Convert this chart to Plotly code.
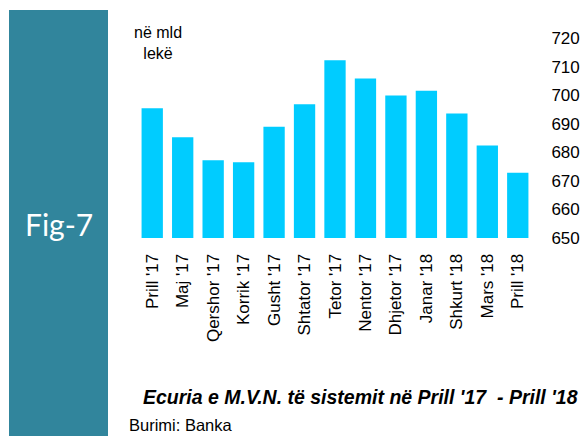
import plotly.graph_objects as go

categories = ["Prill '17", "Maj '17", "Qershor '17", "Korrik '17", "Gusht '17", "Shtator '17",
              "Tetor '17", "Nentor '17", "Dhjetor '17", "Janar '18", "Shkurt '18", "Mars '18", "Prill '18"]
values = [695.4, 685.3, 677.2, 676.5, 688.9, 696.8, 712.2, 705.8, 699.9, 701.5, 693.6, 682.4, 672.8]
y_ticks = [650, 660, 670, 680, 690, 700, 710, 720]
base_value = 650

W, H = 581, 436
L, R, T, B = 137, 48, 38, 198
PW, PH = W - L - R, H - T - B


def px(x):
    return (x - L) / PW


def py(y):
    return 1 - (y - T) / PH


fig = go.Figure()
fig.add_trace(go.Bar(x=categories, y=[v - base_value for v in values], base=base_value,
                     marker=dict(color="#00CCFF", line=dict(width=0)), showlegend=False))

fig.update_layout(
    width=W, height=H,
    margin=dict(l=L, r=R, t=T, b=B),
    paper_bgcolor="white", plot_bgcolor="white",
    bargap=0.3,
    font=dict(family="Liberation Sans, Arial, sans-serif", color="#000000"),
    xaxis=dict(tickangle=-90, tickfont=dict(size=17), showline=False, showgrid=False,
               ticks="outside", ticklen=8, tickcolor="rgba(0,0,0,0)", automargin=False),
    yaxis=dict(side="right", range=[650, 720], tickvals=y_ticks,
               ticktext=[str(t) for t in y_ticks], tickfont=dict(size=17),
               showgrid=False, showline=False, zeroline=False, automargin=False,
               ticks="outside", ticklen=14, tickcolor="rgba(0,0,0,0)"),
    shapes=[dict(type="rect", xref="paper", yref="paper", x0=px(9), x1=px(108), y0=py(440), y1=py(10),
                 fillcolor="#31859C", line=dict(width=0), layer="below")],
    annotations=[
        dict(text="Fig-7", xref="paper", yref="paper", x=px(58.5), y=py(224),
             showarrow=False, font=dict(size=30, color="white", family="Lato, sans-serif"),
             xanchor="center", yanchor="middle"),
        dict(text="në mld<br>lekë", xref="paper", yref="paper", x=px(158), y=py(22),
             showarrow=False, font=dict(size=16), xanchor="center", yanchor="top", align="center"),
        dict(text="<b><i>Ecuria e M.V.N. të sistemit në Prill '17  - Prill '18</i></b>", xref="paper",
             yref="paper", x=px(141), y=py(397), showarrow=False,
             font=dict(size=19.5), xanchor="left", yanchor="middle"),
        dict(text="Burimi: Banka", xref="paper", yref="paper", x=px(127),
             y=py(425), showarrow=False, font=dict(size=16.5),
             xanchor="left", yanchor="middle"),
    ],
)

fig.write_html("out.html", config={"displayModeBar": False},
               post_script="document.body.style.margin='0';document.body.style.overflow='hidden';")
